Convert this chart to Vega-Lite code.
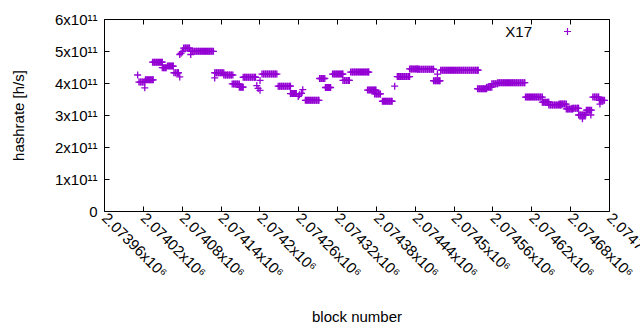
{
"$schema": "https://vega.github.io/schema/vega-lite/v6.json",
"autosize": {"type": "none"},
"padding": {"left": 104, "top": 19, "right": 31, "bottom": 119},
"width": 505,
"height": 192,
"background": "white",
"config": {
  "view": {"stroke": "black", "strokeWidth": 1},
  "font": "Liberation Sans",
  "axis": {"grid": false, "domain": false, "tickColor": "black", "tickSize": -5, "labelFont": "Liberation Sans", "labelFontSize": 15, "labelColor": "black", "titleFont": "Liberation Sans", "titleFontSize": 15, "titleFontWeight": "normal", "titleColor": "black"}
},
"datasets": {
  "pts": [
{"b":2074012,"h":4.25e11},
{"b":2074014,"h":4.03e11},{"b":2074016,"h":4.03e11},{"b":2074017,"h":4.03e11},{"b":2074019,"h":4.03e11},{"b":2074020,"h":4.03e11},{"b":2074022,"h":4.03e11},{"b":2074023,"h":4.03e11},
{"b":2074023,"h":3.85e11},
{"b":2074024,"h":4.1e11},{"b":2074026,"h":4.1e11},{"b":2074027,"h":4.1e11},{"b":2074029,"h":4.1e11},{"b":2074030,"h":4.1e11},{"b":2074032,"h":4.1e11},{"b":2074033,"h":4.1e11},{"b":2074035,"h":4.1e11},{"b":2074036,"h":4.1e11},
{"b":2074035,"h":4.65e11},{"b":2074037,"h":4.65e11},{"b":2074038,"h":4.65e11},{"b":2074040,"h":4.65e11},{"b":2074041,"h":4.65e11},{"b":2074043,"h":4.65e11},{"b":2074044,"h":4.65e11},{"b":2074046,"h":4.65e11},{"b":2074047,"h":4.65e11},{"b":2074049,"h":4.65e11},{"b":2074050,"h":4.65e11},
{"b":2074050,"h":4.48e11},{"b":2074052,"h":4.48e11},{"b":2074053,"h":4.48e11},{"b":2074055,"h":4.48e11},{"b":2074056,"h":4.48e11},
{"b":2074058,"h":4.53e11},{"b":2074060,"h":4.53e11},{"b":2074061,"h":4.53e11},{"b":2074063,"h":4.53e11},{"b":2074064,"h":4.53e11},{"b":2074066,"h":4.53e11},{"b":2074067,"h":4.53e11},
{"b":2074068,"h":4.32e11},{"b":2074070,"h":4.32e11},{"b":2074071,"h":4.32e11},{"b":2074073,"h":4.32e11},{"b":2074074,"h":4.32e11},{"b":2074075,"h":4.32e11},
{"b":2074077,"h":4.19e11},
{"b":2074077,"h":4.89e11},{"b":2074079,"h":4.93e11},{"b":2074081,"h":4.98e11},
{"b":2074083,"h":5.09e11},{"b":2074085,"h":5.09e11},{"b":2074086,"h":5.09e11},{"b":2074088,"h":5.09e11},{"b":2074089,"h":5.09e11},{"b":2074091,"h":5.09e11},{"b":2074092,"h":5.09e11},
{"b":2074094,"h":4.89e11},
{"b":2074094,"h":4.99e11},{"b":2074096,"h":4.99e11},{"b":2074097,"h":4.99e11},{"b":2074099,"h":4.99e11},{"b":2074100,"h":4.99e11},{"b":2074102,"h":4.99e11},{"b":2074103,"h":4.99e11},{"b":2074105,"h":4.99e11},{"b":2074106,"h":4.99e11},{"b":2074108,"h":4.99e11},{"b":2074109,"h":4.99e11},{"b":2074111,"h":4.99e11},{"b":2074112,"h":4.99e11},{"b":2074114,"h":4.99e11},{"b":2074115,"h":4.99e11},{"b":2074117,"h":4.99e11},{"b":2074118,"h":4.99e11},{"b":2074120,"h":4.99e11},{"b":2074121,"h":4.99e11},{"b":2074123,"h":4.99e11},{"b":2074124,"h":4.99e11},{"b":2074126,"h":4.99e11},{"b":2074127,"h":4.99e11},{"b":2074129,"h":4.99e11},
{"b":2074131,"h":4.16e11},
{"b":2074131,"h":4.32e11},{"b":2074133,"h":4.32e11},{"b":2074134,"h":4.32e11},{"b":2074136,"h":4.32e11},{"b":2074137,"h":4.32e11},{"b":2074139,"h":4.32e11},{"b":2074140,"h":4.32e11},{"b":2074142,"h":4.32e11},{"b":2074143,"h":4.32e11},{"b":2074145,"h":4.32e11},
{"b":2074145,"h":4.25e11},{"b":2074147,"h":4.25e11},{"b":2074148,"h":4.25e11},{"b":2074150,"h":4.25e11},{"b":2074151,"h":4.25e11},{"b":2074153,"h":4.25e11},{"b":2074154,"h":4.25e11},{"b":2074156,"h":4.25e11},{"b":2074157,"h":4.25e11},{"b":2074159,"h":4.25e11},
{"b":2074158,"h":3.97e11},{"b":2074160,"h":3.97e11},{"b":2074161,"h":3.97e11},{"b":2074163,"h":3.97e11},{"b":2074164,"h":3.97e11},{"b":2074166,"h":3.97e11},{"b":2074167,"h":3.97e11},{"b":2074169,"h":3.97e11},
{"b":2074169,"h":3.87e11},{"b":2074171,"h":3.87e11},{"b":2074172,"h":3.87e11},{"b":2074174,"h":3.87e11},{"b":2074175,"h":3.87e11},
{"b":2074175,"h":4.18e11},{"b":2074177,"h":4.18e11},{"b":2074178,"h":4.18e11},{"b":2074180,"h":4.18e11},{"b":2074181,"h":4.18e11},{"b":2074183,"h":4.18e11},{"b":2074184,"h":4.18e11},{"b":2074186,"h":4.18e11},{"b":2074187,"h":4.18e11},{"b":2074189,"h":4.18e11},{"b":2074190,"h":4.18e11},{"b":2074192,"h":4.18e11},{"b":2074193,"h":4.18e11},{"b":2074194,"h":4.18e11},
{"b":2074196,"h":3.92e11},{"b":2074198,"h":3.83e11},{"b":2074201,"h":3.77e11},{"b":2074201,"h":4.08e11},
{"b":2074204,"h":4.28e11},{"b":2074206,"h":4.28e11},{"b":2074207,"h":4.28e11},{"b":2074209,"h":4.28e11},{"b":2074210,"h":4.28e11},{"b":2074212,"h":4.28e11},{"b":2074213,"h":4.28e11},{"b":2074215,"h":4.28e11},{"b":2074216,"h":4.28e11},{"b":2074218,"h":4.28e11},{"b":2074219,"h":4.28e11},{"b":2074221,"h":4.28e11},{"b":2074222,"h":4.28e11},{"b":2074224,"h":4.28e11},{"b":2074225,"h":4.28e11},{"b":2074227,"h":4.28e11},
{"b":2074229,"h":3.9e11},{"b":2074231,"h":3.9e11},{"b":2074232,"h":3.9e11},{"b":2074234,"h":3.9e11},{"b":2074235,"h":3.9e11},{"b":2074237,"h":3.9e11},{"b":2074238,"h":3.9e11},{"b":2074240,"h":3.9e11},{"b":2074241,"h":3.9e11},{"b":2074243,"h":3.9e11},{"b":2074244,"h":3.9e11},{"b":2074246,"h":3.9e11},{"b":2074247,"h":3.9e11},{"b":2074248,"h":3.9e11},
{"b":2074248,"h":3.67e11},{"b":2074250,"h":3.67e11},{"b":2074251,"h":3.67e11},{"b":2074253,"h":3.67e11},{"b":2074254,"h":3.67e11},{"b":2074256,"h":3.67e11},{"b":2074257,"h":3.67e11},
{"b":2074260,"h":3.58e11},{"b":2074262,"h":3.63e11},{"b":2074265,"h":3.68e11},{"b":2074267,"h":3.79e11},
{"b":2074271,"h":3.46e11},{"b":2074273,"h":3.46e11},{"b":2074274,"h":3.46e11},{"b":2074276,"h":3.46e11},{"b":2074277,"h":3.46e11},{"b":2074279,"h":3.46e11},{"b":2074280,"h":3.46e11},{"b":2074282,"h":3.46e11},{"b":2074283,"h":3.46e11},{"b":2074285,"h":3.46e11},{"b":2074286,"h":3.46e11},{"b":2074288,"h":3.46e11},{"b":2074289,"h":3.46e11},{"b":2074291,"h":3.46e11},{"b":2074292,"h":3.46e11},
{"b":2074293,"h":4.14e11},{"b":2074295,"h":4.14e11},{"b":2074296,"h":4.14e11},{"b":2074298,"h":4.14e11},{"b":2074299,"h":4.14e11},{"b":2074301,"h":4.14e11},
{"b":2074302,"h":3.86e11},{"b":2074304,"h":3.86e11},{"b":2074305,"h":3.86e11},{"b":2074307,"h":3.86e11},{"b":2074308,"h":3.86e11},{"b":2074310,"h":3.86e11},
{"b":2074313,"h":4.28e11},{"b":2074315,"h":4.28e11},{"b":2074316,"h":4.28e11},{"b":2074318,"h":4.28e11},{"b":2074319,"h":4.28e11},{"b":2074321,"h":4.28e11},{"b":2074322,"h":4.28e11},{"b":2074324,"h":4.28e11},{"b":2074325,"h":4.28e11},{"b":2074327,"h":4.28e11},{"b":2074328,"h":4.28e11},{"b":2074329,"h":4.28e11},
{"b":2074329,"h":4.08e11},{"b":2074331,"h":4.08e11},{"b":2074332,"h":4.08e11},{"b":2074334,"h":4.08e11},{"b":2074335,"h":4.08e11},{"b":2074337,"h":4.08e11},{"b":2074338,"h":4.08e11},{"b":2074339,"h":4.08e11},
{"b":2074341,"h":4.34e11},{"b":2074343,"h":4.34e11},{"b":2074344,"h":4.34e11},{"b":2074346,"h":4.34e11},{"b":2074347,"h":4.34e11},{"b":2074349,"h":4.34e11},{"b":2074350,"h":4.34e11},{"b":2074352,"h":4.34e11},{"b":2074353,"h":4.34e11},{"b":2074355,"h":4.34e11},{"b":2074356,"h":4.34e11},{"b":2074358,"h":4.34e11},{"b":2074359,"h":4.34e11},{"b":2074361,"h":4.34e11},{"b":2074362,"h":4.34e11},{"b":2074364,"h":4.34e11},{"b":2074365,"h":4.34e11},{"b":2074367,"h":4.34e11},{"b":2074368,"h":4.34e11},{"b":2074369,"h":4.34e11},
{"b":2074367,"h":3.78e11},{"b":2074369,"h":3.78e11},{"b":2074370,"h":3.78e11},{"b":2074372,"h":3.78e11},{"b":2074373,"h":3.78e11},{"b":2074375,"h":3.78e11},{"b":2074376,"h":3.78e11},{"b":2074378,"h":3.78e11},{"b":2074379,"h":3.78e11},{"b":2074380,"h":3.78e11},
{"b":2074378,"h":3.66e11},{"b":2074380,"h":3.66e11},{"b":2074381,"h":3.66e11},{"b":2074383,"h":3.66e11},{"b":2074384,"h":3.66e11},{"b":2074386,"h":3.66e11},{"b":2074387,"h":3.66e11},
{"b":2074390,"h":3.43e11},{"b":2074392,"h":3.43e11},{"b":2074393,"h":3.43e11},{"b":2074395,"h":3.43e11},{"b":2074396,"h":3.43e11},{"b":2074398,"h":3.43e11},{"b":2074399,"h":3.43e11},{"b":2074401,"h":3.43e11},{"b":2074402,"h":3.43e11},{"b":2074404,"h":3.43e11},{"b":2074405,"h":3.43e11},
{"b":2074409,"h":3.9e11},
{"b":2074413,"h":4.2e11},{"b":2074415,"h":4.2e11},{"b":2074416,"h":4.2e11},{"b":2074418,"h":4.2e11},{"b":2074419,"h":4.2e11},{"b":2074421,"h":4.2e11},{"b":2074422,"h":4.2e11},{"b":2074424,"h":4.2e11},{"b":2074425,"h":4.2e11},{"b":2074427,"h":4.2e11},{"b":2074428,"h":4.2e11},{"b":2074430,"h":4.2e11},{"b":2074431,"h":4.2e11},{"b":2074432,"h":4.2e11},
{"b":2074432,"h":4.44e11},{"b":2074434,"h":4.44e11},{"b":2074435,"h":4.44e11},{"b":2074437,"h":4.44e11},{"b":2074438,"h":4.44e11},{"b":2074440,"h":4.44e11},{"b":2074441,"h":4.44e11},{"b":2074443,"h":4.44e11},{"b":2074444,"h":4.44e11},{"b":2074445,"h":4.44e11},
{"b":2074445,"h":4.43e11},{"b":2074447,"h":4.43e11},{"b":2074448,"h":4.43e11},{"b":2074450,"h":4.43e11},{"b":2074451,"h":4.43e11},{"b":2074453,"h":4.43e11},{"b":2074454,"h":4.43e11},{"b":2074456,"h":4.43e11},{"b":2074457,"h":4.43e11},{"b":2074459,"h":4.43e11},{"b":2074460,"h":4.43e11},{"b":2074462,"h":4.43e11},{"b":2074463,"h":4.43e11},{"b":2074465,"h":4.43e11},{"b":2074466,"h":4.43e11},{"b":2074468,"h":4.43e11},{"b":2074469,"h":4.43e11},
{"b":2074469,"h":4.07e11},{"b":2074471,"h":4.07e11},{"b":2074472,"h":4.07e11},{"b":2074474,"h":4.07e11},{"b":2074475,"h":4.07e11},{"b":2074477,"h":4.07e11},{"b":2074478,"h":4.07e11},{"b":2074479,"h":4.07e11},
{"b":2074475,"h":4.28e11},
{"b":2074480,"h":4.4e11},{"b":2074482,"h":4.4e11},{"b":2074483,"h":4.4e11},{"b":2074485,"h":4.4e11},{"b":2074486,"h":4.4e11},{"b":2074488,"h":4.4e11},{"b":2074489,"h":4.4e11},{"b":2074491,"h":4.4e11},{"b":2074492,"h":4.4e11},{"b":2074494,"h":4.4e11},{"b":2074495,"h":4.4e11},{"b":2074497,"h":4.4e11},{"b":2074498,"h":4.4e11},{"b":2074500,"h":4.4e11},{"b":2074501,"h":4.4e11},{"b":2074503,"h":4.4e11},{"b":2074504,"h":4.4e11},{"b":2074506,"h":4.4e11},{"b":2074507,"h":4.4e11},{"b":2074509,"h":4.4e11},{"b":2074510,"h":4.4e11},{"b":2074512,"h":4.4e11},{"b":2074513,"h":4.4e11},{"b":2074515,"h":4.4e11},{"b":2074516,"h":4.4e11},{"b":2074518,"h":4.4e11},{"b":2074519,"h":4.4e11},{"b":2074521,"h":4.4e11},{"b":2074522,"h":4.4e11},{"b":2074524,"h":4.4e11},{"b":2074525,"h":4.4e11},{"b":2074527,"h":4.4e11},{"b":2074528,"h":4.4e11},{"b":2074530,"h":4.4e11},{"b":2074531,"h":4.4e11},{"b":2074533,"h":4.4e11},{"b":2074534,"h":4.4e11},{"b":2074536,"h":4.4e11},{"b":2074537,"h":4.4e11},{"b":2074538,"h":4.4e11},
{"b":2074537,"h":3.82e11},{"b":2074539,"h":3.82e11},{"b":2074540,"h":3.82e11},{"b":2074542,"h":3.82e11},{"b":2074543,"h":3.82e11},{"b":2074545,"h":3.82e11},{"b":2074546,"h":3.82e11},{"b":2074548,"h":3.82e11},{"b":2074549,"h":3.82e11},{"b":2074551,"h":3.82e11},
{"b":2074551,"h":3.87e11},{"b":2074553,"h":3.87e11},{"b":2074554,"h":3.87e11},{"b":2074556,"h":3.87e11},{"b":2074557,"h":3.87e11},{"b":2074559,"h":3.87e11},
{"b":2074559,"h":3.98e11},{"b":2074561,"h":3.98e11},{"b":2074562,"h":3.98e11},{"b":2074564,"h":3.98e11},{"b":2074565,"h":3.98e11},{"b":2074567,"h":3.98e11},{"b":2074568,"h":3.98e11},
{"b":2074568,"h":4.01e11},{"b":2074570,"h":4.01e11},{"b":2074571,"h":4.01e11},{"b":2074573,"h":4.01e11},{"b":2074574,"h":4.01e11},{"b":2074576,"h":4.01e11},{"b":2074577,"h":4.01e11},{"b":2074579,"h":4.01e11},{"b":2074580,"h":4.01e11},{"b":2074582,"h":4.01e11},{"b":2074583,"h":4.01e11},{"b":2074585,"h":4.01e11},{"b":2074586,"h":4.01e11},{"b":2074588,"h":4.01e11},{"b":2074589,"h":4.01e11},{"b":2074591,"h":4.01e11},{"b":2074592,"h":4.01e11},{"b":2074594,"h":4.01e11},{"b":2074595,"h":4.01e11},{"b":2074597,"h":4.01e11},{"b":2074598,"h":4.01e11},{"b":2074600,"h":4.01e11},{"b":2074601,"h":4.01e11},{"b":2074603,"h":4.01e11},{"b":2074604,"h":4.01e11},{"b":2074606,"h":4.01e11},{"b":2074607,"h":4.01e11},{"b":2074609,"h":4.01e11},{"b":2074610,"h":4.01e11},
{"b":2074611,"h":3.56e11},{"b":2074613,"h":3.56e11},{"b":2074614,"h":3.56e11},{"b":2074616,"h":3.56e11},{"b":2074617,"h":3.56e11},{"b":2074619,"h":3.56e11},{"b":2074620,"h":3.56e11},{"b":2074622,"h":3.56e11},{"b":2074623,"h":3.56e11},{"b":2074625,"h":3.56e11},{"b":2074626,"h":3.56e11},{"b":2074628,"h":3.56e11},{"b":2074629,"h":3.56e11},{"b":2074631,"h":3.56e11},{"b":2074632,"h":3.56e11},{"b":2074634,"h":3.56e11},{"b":2074635,"h":3.56e11},{"b":2074637,"h":3.56e11},
{"b":2074637,"h":3.4e11},{"b":2074639,"h":3.4e11},{"b":2074640,"h":3.4e11},{"b":2074642,"h":3.4e11},{"b":2074643,"h":3.4e11},{"b":2074645,"h":3.4e11},{"b":2074646,"h":3.4e11},{"b":2074647,"h":3.4e11},
{"b":2074647,"h":3.31e11},{"b":2074649,"h":3.31e11},{"b":2074650,"h":3.31e11},{"b":2074652,"h":3.31e11},{"b":2074653,"h":3.31e11},{"b":2074655,"h":3.31e11},{"b":2074656,"h":3.31e11},{"b":2074658,"h":3.31e11},{"b":2074659,"h":3.31e11},{"b":2074661,"h":3.31e11},{"b":2074662,"h":3.31e11},{"b":2074664,"h":3.31e11},{"b":2074665,"h":3.31e11},{"b":2074666,"h":3.31e11},
{"b":2074663,"h":3.34e11},{"b":2074665,"h":3.34e11},{"b":2074666,"h":3.34e11},{"b":2074668,"h":3.34e11},{"b":2074669,"h":3.34e11},{"b":2074671,"h":3.34e11},{"b":2074672,"h":3.34e11},{"b":2074674,"h":3.34e11},
{"b":2074674,"h":3.19e11},{"b":2074676,"h":3.19e11},{"b":2074677,"h":3.19e11},{"b":2074679,"h":3.19e11},{"b":2074680,"h":3.19e11},{"b":2074682,"h":3.19e11},{"b":2074683,"h":3.19e11},{"b":2074684,"h":3.19e11},
{"b":2074683,"h":3.21e11},{"b":2074685,"h":3.21e11},{"b":2074686,"h":3.21e11},{"b":2074688,"h":3.21e11},{"b":2074689,"h":3.21e11},{"b":2074691,"h":3.21e11},{"b":2074692,"h":3.21e11},{"b":2074693,"h":3.21e11},
{"b":2074693,"h":3.0e11},{"b":2074695,"h":3.0e11},{"b":2074696,"h":3.0e11},{"b":2074698,"h":3.0e11},{"b":2074699,"h":3.0e11},{"b":2074701,"h":3.0e11},{"b":2074702,"h":3.0e11},{"b":2074704,"h":3.0e11},
{"b":2074699,"h":2.88e11},
{"b":2074705,"h":3.15e11},{"b":2074707,"h":3.15e11},{"b":2074708,"h":3.15e11},{"b":2074710,"h":3.15e11},{"b":2074711,"h":3.15e11},{"b":2074713,"h":3.15e11},
{"b":2074712,"h":3.0e11},
{"b":2074715,"h":3.56e11},{"b":2074717,"h":3.56e11},{"b":2074718,"h":3.56e11},{"b":2074720,"h":3.56e11},{"b":2074721,"h":3.56e11},{"b":2074723,"h":3.56e11},{"b":2074724,"h":3.56e11},
{"b":2074725,"h":3.46e11},{"b":2074727,"h":3.46e11},{"b":2074728,"h":3.46e11},{"b":2074730,"h":3.46e11},{"b":2074731,"h":3.46e11},{"b":2074733,"h":3.46e11},
{"b":2074726,"h":3.34e11}
  ],
  "frame": [{"b":2073960,"h":0}]
},
"layer": [
  {
    "data": {"name": "pts"},
    "mark": {"type": "point", "shape": "M-1,0H1M0,-1V1", "size": 49, "filled": false, "strokeWidth": 1.3, "opacity": 1},
    "encoding": {
      "x": {"field": "b", "type": "quantitative", "scale": {"domain": [2073960, 2074740], "nice": false, "zero": false},
        "axis": {"orient": "bottom", "title": "block number", "values": [2073960,2074020,2074080,2074140,2074200,2074260,2074320,2074380,2074440,2074500,2074560,2074620,2074680,2074740],
          "labelExpr": "format(datum.value/1e6, '.6~g') + 'x10⁶'", "labelAngle": 45, "labelAlign": "left", "labelBaseline": "middle", "labelPadding": 9, "labelOverlap": false, "labelFlush": false, "labelBound": false,
          "titleY": 105, "titleBaseline": "middle"}},
      "y": {"field": "h", "type": "quantitative", "scale": {"domain": [0, 6e11], "nice": false},
        "axis": {"orient": "left", "title": "hashrate [h/s]", "values": [0,1e11,2e11,3e11,4e11,5e11,6e11],
          "labelExpr": "datum.value == 0 ? '0' : format(datum.value/1e11, 'd') + 'x10¹¹'", "labelPadding": 12, "labelOverlap": false, "labelFlush": false,
          "titleX": -86, "titleBaseline": "middle"}},
      "color": {"datum": "X17", "type": "nominal", "scale": {"range": ["#9400d3"]},
        "legend": {"title": null, "orient": "none", "legendX": 456, "legendY": 5, "padding": 0, "symbolType": "M-1,0H1M0,-1V1", "symbolSize": 49, "symbolStrokeWidth": 1.2, "symbolFillColor": "transparent", "symbolStrokeColor": "#9400d3", "labelAlign": "right", "labelOffset": -43, "labelFont": "Liberation Sans", "labelFontSize": 15, "labelColor": "black"}}
    }
  },
  {
    "data": {"name": "frame"},
    "mark": {"type": "point", "opacity": 0},
    "encoding": {
      "x": {"field": "b", "type": "quantitative", "axis": {"orient": "top", "title": null, "labels": false, "values": [2073960,2074020,2074080,2074140,2074200,2074260,2074320,2074380,2074440,2074500,2074560,2074620,2074680,2074740]}},
      "y": {"field": "h", "type": "quantitative", "axis": {"orient": "right", "title": null, "labels": false, "values": [0,1e11,2e11,3e11,4e11,5e11,6e11]}}
    }
  }
],
"resolve": {"axis": {"x": "independent", "y": "independent"}}
}
